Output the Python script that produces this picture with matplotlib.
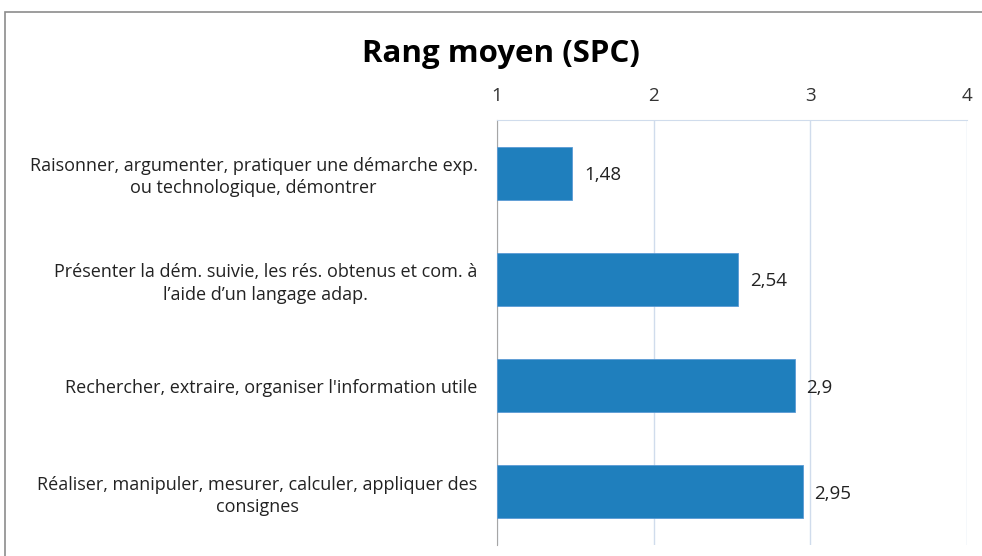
import matplotlib.pyplot as plt
from matplotlib.patches import Rectangle

categories = [
    "Raisonner, argumenter, pratiquer une démarche exp.\nou technologique, démontrer",
    "Présenter la dém. suivie, les rés. obtenus et com. à\nl\u2019aide d\u2019un langage adap.",
    "Rechercher, extraire, organiser l'information utile",
    "Réaliser, manipuler, mesurer, calculer, appliquer des\nconsignes",
]
values = [1.48, 2.54, 2.9, 2.95]
value_labels = ["1,48", "2,54", "2,9", "2,95"]
ticks = [1, 2, 3, 4]

plt.rcParams['font.family'] = ['Open Sans', 'DejaVu Sans']

fig = plt.figure(figsize=(9.82, 5.56), dpi=100)
ax = fig.add_axes([497 / 982, 1 - 545 / 556, 470 / 982, 425 / 556])

# chart border (cut off on right and bottom like the original)
fig.patches.append(Rectangle((5 / 982, -0.1), 1.2, 1 - 12 / 556 + 0.1,
                             transform=fig.transFigure, fill=False,
                             edgecolor='#8c8c8c', linewidth=1.2))

pos = list(range(len(categories)))
ax.barh(pos, [v - 1 for v in values], left=1, height=0.5,
        color='#1f7fbd', edgecolor='#5b9bd5', linewidth=0.6, zorder=3)
for p, v, lab in zip(pos, values, value_labels):
    ax.text(v + 0.075, p + 0.02, lab, va='center', ha='left', fontsize=13.5, color='#222222')

ax.set_xlim(1, 4)
ax.set_ylim(3.5, -0.5)
ax.xaxis.tick_top()
ax.set_xticks(ticks)
ax.set_xticklabels([str(t) for t in ticks], fontsize=13.5, color='#333333')
ax.tick_params(axis='x', length=0, pad=11)
ax.set_yticks(pos)
ax.set_yticklabels(categories, fontsize=13, color='#222222', multialignment='center',
                   linespacing=1.3)
ax.tick_params(axis='y', length=0, pad=14)
ax.grid(axis='x', color='#d0dcec', linewidth=1, zorder=0)
for s in ['right', 'bottom']:
    ax.spines[s].set_visible(False)
ax.spines['top'].set_color('#d0dcec')
ax.spines['left'].set_color('#a6a6a6')

fig.text(501 / 982, 1 - 54 / 556, "Rang moyen (SPC)", ha='center', va='center',
         fontsize=22.5, fontweight='bold', color='#000000')

fig.savefig('out.png', dpi=100)
